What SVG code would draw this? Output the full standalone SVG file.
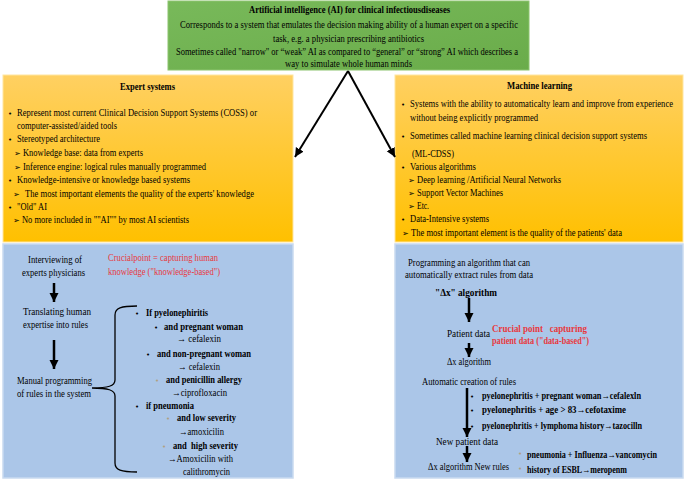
<svg xmlns="http://www.w3.org/2000/svg" width="685" height="480" viewBox="0 0 685 480" font-family="'Liberation Serif', 'Times New Roman', 'DejaVu Serif', serif">
<defs>
<linearGradient id="og" x1="0" y1="0" x2="0" y2="1"><stop offset="0" stop-color="#ffd062"/><stop offset="1" stop-color="#ffc000"/></linearGradient>
<linearGradient id="gg" x1="0" y1="0" x2="1" y2="1"><stop offset="0" stop-color="#78b95a"/><stop offset="1" stop-color="#6aac4a"/></linearGradient>
<marker id="ah" markerUnits="userSpaceOnUse" markerWidth="11" markerHeight="11" refX="9" refY="4.5" orient="auto"><path d="M0,0 L9,4.5 L0,9 Z" fill="#000"/></marker>
<marker id="ah2" markerUnits="userSpaceOnUse" markerWidth="12" markerHeight="12" refX="9" refY="4.5" orient="auto"><path d="M0,0 L9,4.5 L0,9 Z" fill="#000"/></marker>
</defs>
<style>
text{font-family:'Liberation Serif','Times New Roman','DejaVu Serif',serif;font-size:10.5px;fill:#000}
.b{font-weight:bold}
.r{fill:#e8383d}
.s{font-size:9.5px}
.sm{font-size:9.5px}
.bu{font-family:'DejaVu Sans',sans-serif;font-size:7px}
.ar{font-family:'DejaVu Sans',sans-serif;font-size:8px}
.gb{fill:#b0a080}
.og{fill:url(#og);stroke:#ffe6a0;stroke-width:1}
.bl{fill:#abc6e8;stroke:#c9daf0;stroke-width:1.5}
</style>

<g id="ai">
<rect x="168" y="1" width="361" height="69" fill="url(#gg)" stroke="#8cc46f" stroke-width="1"/>
<text x="249" y="13" class="b" textLength="201" lengthAdjust="spacingAndGlyphs">Artificial intelligence (AI) for clinical infectiousdiseases</text>
<text x="180" y="28" textLength="338" lengthAdjust="spacingAndGlyphs">Corresponds to a system that emulates the decision making ability of a human expert on a specific</text>
<text x="273" y="42" textLength="151" lengthAdjust="spacingAndGlyphs">task, e.g. a physician prescribing antibiotics</text>
<text x="176" y="55" textLength="342" lengthAdjust="spacingAndGlyphs">Sometimes called "narrow" or “weak” AI as compared to “general” or “strong” AI which describes a</text>
<text x="285" y="67" textLength="127" lengthAdjust="spacingAndGlyphs">way to simulate whole human minds</text>
</g>

<g id="expert">
<rect x="3" y="75" width="290" height="167" class="og"/>
<text x="120" y="90" class="b" textLength="55" lengthAdjust="spacingAndGlyphs">Expert systems</text>
<text x="8" y="116" class="bu">•</text>
<text x="17" y="116" textLength="240" lengthAdjust="spacingAndGlyphs">Represent most current Clinical Decision Support Systems (COSS) or</text>
<text x="17" y="129" textLength="100" lengthAdjust="spacingAndGlyphs">computer-assisted/aided tools</text>
<text x="8" y="142" class="bu">•</text>
<text x="17" y="142" textLength="83" lengthAdjust="spacingAndGlyphs">Stereotyped architecture</text>
<text x="14" y="156" class="ar">➢</text>
<text x="23" y="156" textLength="120" lengthAdjust="spacingAndGlyphs">Knowledge base: data from experts</text>
<text x="14" y="170" class="ar">➢</text>
<text x="23" y="170" textLength="183" lengthAdjust="spacingAndGlyphs">Inference engine: logical rules manually programmed</text>
<text x="8" y="183" class="bu">•</text>
<text x="17" y="183" textLength="173" lengthAdjust="spacingAndGlyphs">Knowledge-intensive or knowledge based systems</text>
<text x="13" y="197" class="ar">➢</text>
<text x="25" y="197" textLength="229" lengthAdjust="spacingAndGlyphs">The most important elements the quality of the experts' knowledge</text>
<text x="8" y="210" class="bu">•</text>
<text x="17" y="210" textLength="30" lengthAdjust="spacingAndGlyphs">"Old" AI</text>
<text x="13" y="223" class="ar">➢</text>
<text x="22" y="223" textLength="167" lengthAdjust="spacingAndGlyphs">No more included in ""AI"" by most AI scientists</text>
</g>

<g id="ml">
<rect x="395" y="75" width="288" height="167" class="og"/>
<text x="507" y="89" class="b" textLength="65" lengthAdjust="spacingAndGlyphs">Machine learning</text>
<text x="401" y="107" class="bu">•</text>
<text x="410" y="107" class="sm" textLength="263" lengthAdjust="spacingAndGlyphs">Systems with the ability to automaticalty learn and improve from experience</text>
<text x="410" y="121" textLength="128" lengthAdjust="spacingAndGlyphs">without being explicitly programmed</text>
<text x="401" y="139" class="bu">•</text>
<text x="410" y="139" class="sm" textLength="237" lengthAdjust="spacingAndGlyphs">Sometimes called machine learning clinical decision support systems</text>
<text x="412" y="157" textLength="42" lengthAdjust="spacingAndGlyphs">(ML-CDSS)</text>
<text x="401" y="170" class="bu">•</text>
<text x="410" y="170" textLength="66" lengthAdjust="spacingAndGlyphs">Various algorithms</text>
<text x="408" y="183" class="ar">➢</text>
<text x="417" y="183" textLength="144" lengthAdjust="spacingAndGlyphs">Deep learning /Artificial Neural Networks</text>
<text x="408" y="196" class="ar">➢</text>
<text x="417" y="196" textLength="86" lengthAdjust="spacingAndGlyphs">Support Vector Machines</text>
<text x="408" y="209" class="ar">➢</text>
<text x="417" y="209" textLength="12" lengthAdjust="spacingAndGlyphs">Etc.</text>
<text x="401" y="222" class="bu">•</text>
<text x="410" y="222" textLength="79" lengthAdjust="spacingAndGlyphs">Data-Intensive systems</text>
<text x="402" y="236" class="ar">➢</text>
<text x="411" y="236" textLength="211" lengthAdjust="spacingAndGlyphs">The most important element is the quality of the patients' data</text>
</g>

<g id="expert-flow">
<rect x="3" y="244" width="290" height="234" class="bl"/>
<text x="28" y="263" class="s" textLength="54" lengthAdjust="spacingAndGlyphs">Interviewing of</text>
<text x="22" y="276" class="s" textLength="63" lengthAdjust="spacingAndGlyphs">experts physicians</text>
<text x="108" y="261" class="s r" textLength="110" lengthAdjust="spacingAndGlyphs">Crucialpoint = capturing human</text>
<text x="108" y="275" class="s r" textLength="112" lengthAdjust="spacingAndGlyphs">knowledge ("knowledge-based")</text>
<text x="23" y="315" class="s" textLength="68" lengthAdjust="spacingAndGlyphs">Translating human</text>
<text x="23" y="328" class="s" textLength="65" lengthAdjust="spacingAndGlyphs">expertise into rules</text>
<text x="17" y="384" class="s" textLength="75" lengthAdjust="spacingAndGlyphs">Manual programming</text>
<text x="17" y="397" class="s" textLength="74" lengthAdjust="spacingAndGlyphs">of rules in the system</text>
<path d="M137,306 C121,306 115,308 115,315 L115,380 C115,386 108,388 92,388 C108,388 115,390 115,396 L115,463 C115,470 121,472 137,472" fill="none" stroke="#000" stroke-width="1.3"/>
<text x="135" y="316" class="bu">•</text>
<text x="146" y="316" class="s b" textLength="62" lengthAdjust="spacingAndGlyphs">If pyelonephiritis</text>
<text x="154" y="330" class="bu">•</text>
<text x="164" y="330" class="s b" textLength="79" lengthAdjust="spacingAndGlyphs">and pregnant woman</text>
<text x="177" y="342" class="s" textLength="44" lengthAdjust="spacingAndGlyphs">→ cefalexin</text>
<text x="146" y="357" class="bu">•</text>
<text x="157" y="357" class="s b" textLength="94" lengthAdjust="spacingAndGlyphs">and non-pregnant woman</text>
<text x="178" y="370" class="s" textLength="42" lengthAdjust="spacingAndGlyphs">→ cefalexin</text>
<text x="155" y="383" class="bu gb">•</text>
<text x="166" y="383" class="s b" textLength="76" lengthAdjust="spacingAndGlyphs">and penicillin allergy</text>
<text x="172" y="396" class="s" textLength="55" lengthAdjust="spacingAndGlyphs">→ciprofloxacin</text>
<text x="135" y="409" class="bu">•</text>
<text x="146" y="409" class="s b" textLength="48" lengthAdjust="spacingAndGlyphs">if pneumonia</text>
<text x="166" y="421" class="bu gb">•</text>
<text x="177" y="421" class="s b" textLength="59" lengthAdjust="spacingAndGlyphs">and low severity</text>
<text x="179" y="435" class="s" textLength="45" lengthAdjust="spacingAndGlyphs">→amoxicilin</text>
<text x="162" y="449" class="bu gb">•</text>
<text x="173" y="449" class="s b" textLength="65" lengthAdjust="spacingAndGlyphs" xml:space="preserve">and  high severity</text>
<text x="168" y="462" class="s" textLength="65" lengthAdjust="spacingAndGlyphs">→Amoxicilin with</text>
<text x="183" y="475" class="s" textLength="47" lengthAdjust="spacingAndGlyphs">calithromycin</text>
</g>

<g id="ml-flow">
<rect x="395" y="244" width="288" height="234" class="bl"/>
<text x="408" y="266" class="s" textLength="122" lengthAdjust="spacingAndGlyphs">Programming an algorithm that can</text>
<text x="405" y="278" class="s" textLength="128" lengthAdjust="spacingAndGlyphs">automatically extract rules from data</text>
<text x="435" y="296" class="s b" textLength="62" lengthAdjust="spacingAndGlyphs">"Δx" algorithm</text>
<text x="447" y="337" class="s" textLength="43" lengthAdjust="spacingAndGlyphs">Patient data</text>
<text x="492" y="332" class="s b r" textLength="95" lengthAdjust="spacingAndGlyphs" xml:space="preserve">Crucial point   capturing</text>
<text x="492" y="344" class="s b r" textLength="97" lengthAdjust="spacingAndGlyphs">patient data ("data-based")</text>
<text x="447" y="365" class="s" textLength="44" lengthAdjust="spacingAndGlyphs">Δx algorithm</text>
<text x="422" y="385" class="s" textLength="94" lengthAdjust="spacingAndGlyphs">Automatic creation of rules</text>
<text x="470" y="399" class="bu">•</text>
<text x="482" y="399" class="s b" textLength="159" lengthAdjust="spacingAndGlyphs">pyelonephritis + pregnant woman→cefalexln</text>
<text x="470" y="413" class="bu">•</text>
<text x="482" y="413" class="s b" textLength="144" lengthAdjust="spacingAndGlyphs">pyelonephritis + age &gt; 83→cefotaxime</text>
<text x="470" y="429" class="bu">•</text>
<text x="482" y="429" class="s b" textLength="160" lengthAdjust="spacingAndGlyphs">pyelonephritis + lymphoma history→tazocilln</text>
<text x="436" y="445" class="s" textLength="62" lengthAdjust="spacingAndGlyphs">New patient data</text>
<text x="428" y="470" class="s" textLength="81" lengthAdjust="spacingAndGlyphs">Δx algorithm New rules</text>
<text x="518" y="456" class="bu gb">•</text>
<text x="527" y="458" class="s b" textLength="130" lengthAdjust="spacingAndGlyphs">pneumonia + Influenza→vancomycin</text>
<text x="518" y="471" class="bu gb">•</text>
<text x="527" y="473" class="s b" textLength="100" lengthAdjust="spacingAndGlyphs">history of ESBL→meropenm</text>
</g>

<g id="connectors" stroke="#000" fill="none">
<line x1="348" y1="71" x2="295" y2="157" stroke-width="2" marker-end="url(#ah)"/>
<line x1="348" y1="71" x2="395" y2="157" stroke-width="2" marker-end="url(#ah)"/>
<line x1="54" y1="283" x2="54" y2="302" stroke-width="2.5" marker-end="url(#ah2)"/>
<line x1="54" y1="340" x2="54" y2="369" stroke-width="2.5" marker-end="url(#ah2)"/>
<line x1="469" y1="298" x2="469" y2="322" stroke-width="2.5" marker-end="url(#ah2)"/>
<line x1="469" y1="343" x2="469" y2="357" stroke-width="2.5" marker-end="url(#ah2)"/>
<line x1="467" y1="388" x2="467" y2="437" stroke-width="2.5" marker-end="url(#ah2)"/>
<line x1="467" y1="446" x2="467" y2="462" stroke-width="2.5" marker-end="url(#ah2)"/>
</g>
</svg>
